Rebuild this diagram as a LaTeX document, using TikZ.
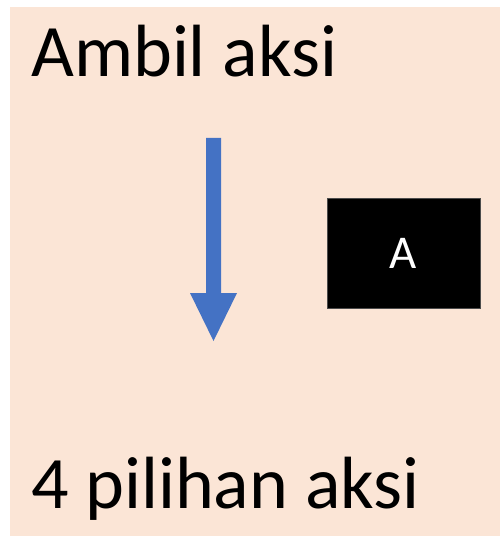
\documentclass[tikz,border=0pt]{standalone}
\usepackage{fontspec}
\setmainfont{Carlito}
\definecolor{peach}{HTML}{FBE5D6}
\definecolor{arrowblue}{HTML}{4472C4}
\tikzset{
    bigtext/.style={anchor=base west, inner sep=0pt, font=\fontsize{74}{80}\selectfont},
    blackbox/.style={fill=black, draw=black!70, text=white, minimum width=153pt, minimum height=110pt, inner sep=0pt, font=\fontsize{47}{50}\selectfont},
}

\begin{document}
\begin{tikzpicture}[x=1pt,y=-1pt]
    \useasboundingbox (0,0) rectangle (502,537);
    \fill[peach] (10,7) rectangle (500,536); % background
    \node[bigtext] (title) at (31,77) {Ambil aksi};
    \node[bigtext] (choices) at (31,508) {4 pilihan aksi};
    \node[blackbox] (boxA) at (403.5,253) {A};
    % block arrow
    \coordinate (ArrowTop) at (213.5,138);
    \coordinate (ArrowTip) at (213.5,341);
    \fill[arrowblue] (ArrowTop) ++(-7.5,0) -- ++(15,0) -- (221,293) -- (237,293)
        -- (ArrowTip) -- (190,293) -- (206,293) -- cycle;
\end{tikzpicture}
\end{document}
